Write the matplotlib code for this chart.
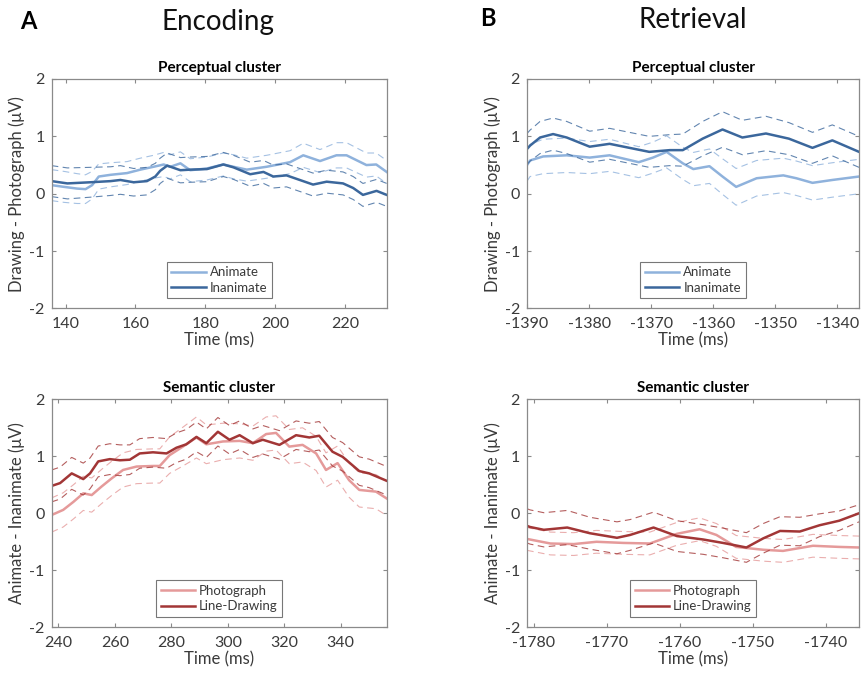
import matplotlib.pyplot as plt

plt.rcParams['font.family'] = ['Lato', 'DejaVu Sans']
plt.rcParams['axes.unicode_minus'] = False

# Encoding, perceptual cluster (drawing - photograph)
enc_perc_t_anim = [136, 139.5, 143.3, 145.7, 147.6, 149.5, 152.9, 157.6, 161.4, 165.2, 168.1, 170, 172.9,
                   175.7, 180.5, 185.2, 188.1, 191.9, 197.6, 204.3, 208.1, 212.9, 217.6, 220.5, 226.2, 229, 232]
enc_perc_anim = [0.15, 0.12, 0.09, 0.08, 0.15, 0.30, 0.33, 0.36, 0.42, 0.47, 0.51, 0.47, 0.53,
                 0.41, 0.44, 0.51, 0.47, 0.42, 0.47, 0.55, 0.67, 0.57, 0.67, 0.67, 0.50, 0.51, 0.38]
enc_perc_anim_ci = [0.27, 0.27, 0.26, 0.25, 0.24, 0.22, 0.21, 0.2, 0.2, 0.2, 0.21, 0.21, 0.2,
                    0.2, 0.2, 0.2, 0.21, 0.2, 0.2, 0.2, 0.21, 0.2, 0.22, 0.22, 0.21, 0.2, 0.2]
enc_perc_t_inan = [136, 140.5, 147.1, 152.9, 155.7, 159.5, 163.3, 165.7, 167.1, 169.1, 172.9, 175.7, 180.5,
                   185.2, 188.1, 192.9, 196.7, 199.5, 203.3, 207.1, 210.9, 214.8, 219.5, 222.4, 225.2, 229.1, 232]
enc_perc_inan = [0.22, 0.18, 0.20, 0.22, 0.24, 0.20, 0.22, 0.30, 0.40, 0.49, 0.41, 0.42, 0.43,
                 0.51, 0.46, 0.34, 0.38, 0.30, 0.32, 0.24, 0.16, 0.21, 0.18, 0.10, -0.02, 0.05, -0.02]
enc_perc_inan_ci = [0.27, 0.27, 0.26, 0.25, 0.25, 0.24, 0.24, 0.23, 0.22, 0.22, 0.22, 0.22, 0.22,
                    0.21, 0.21, 0.21, 0.2, 0.2, 0.2, 0.2, 0.2, 0.2, 0.2, 0.2, 0.2, 0.2, 0.2]

# Retrieval, perceptual cluster
ret_perc_t_anim = [-1390, -1389.5, -1387.4, -1383.6, -1379.9, -1376.7, -1372, -1369.7, -1367.5, -1364.9,
                   -1363.2, -1360.6, -1358.5, -1356.3, -1353, -1348.7, -1346.6, -1344, -1340.8, -1336.5]
ret_perc_anim = [0.50, 0.58, 0.65, 0.67, 0.63, 0.67, 0.55, 0.63, 0.73, 0.53,
                 0.43, 0.48, 0.30, 0.12, 0.27, 0.32, 0.27, 0.19, 0.24, 0.30]
ret_perc_anim_ci = [0.28, 0.28, 0.3, 0.3, 0.28, 0.28, 0.27, 0.27, 0.28, 0.28,
                    0.29, 0.3, 0.31, 0.32, 0.31, 0.3, 0.3, 0.3, 0.3, 0.3]
ret_perc_t_inan = [-1390, -1389.5, -1387.9, -1385.8, -1383.6, -1379.9, -1376.7, -1373.5, -1370.3, -1367,
                   -1364.9, -1361.7, -1358.5, -1355.3, -1351.5, -1347.8, -1344, -1340.8, -1336.5]
ret_perc_inan = [0.78, 0.84, 0.98, 1.04, 0.98, 0.82, 0.87, 0.80, 0.73, 0.76,
                 0.76, 0.96, 1.12, 0.98, 1.05, 0.96, 0.80, 0.93, 0.73]
ret_perc_inan_ci = [0.27, 0.27, 0.28, 0.28, 0.28, 0.27, 0.27, 0.27, 0.27, 0.27,
                    0.28, 0.3, 0.31, 0.3, 0.3, 0.28, 0.27, 0.27, 0.27]

# Encoding, semantic cluster (animate - inanimate)
enc_sem_t_photo = [237.6, 241.7, 245.3, 248.8, 251.8, 255.3, 258.8, 262.9, 267.7, 273.5, 275.9, 279.4,
                   284.1, 288.9, 292.4, 298.3, 304.2, 308.9, 313.6, 317.1, 321.8, 326.5, 331.3, 334.8,
                   338.9, 343, 346.6, 352.5, 356.3]
enc_sem_photo = [-0.03, 0.06, 0.20, 0.35, 0.32, 0.47, 0.61, 0.76, 0.82, 0.83, 0.83, 1.02,
                 1.17, 1.33, 1.21, 1.26, 1.27, 1.23, 1.39, 1.41, 1.17, 1.20, 1.05, 0.76,
                 0.88, 0.58, 0.41, 0.38, 0.26]
enc_sem_photo_ci = [0.3, 0.3, 0.3, 0.3, 0.3, 0.3, 0.3, 0.3, 0.3, 0.3, 0.3, 0.32,
                    0.34, 0.36, 0.34, 0.32, 0.3, 0.3, 0.3, 0.3, 0.3, 0.3, 0.3, 0.3,
                    0.3, 0.3, 0.3, 0.3, 0.3]
enc_sem_t_line = [237.6, 240.6, 244.7, 248.8, 251.2, 254.1, 258.2, 261.8, 265.3, 268.8, 273.5, 278.3,
                  281.8, 285.3, 288.9, 292.4, 296.5, 300.6, 304.2, 308.9, 312.4, 318.3, 324.2, 328.9,
                  332.4, 337.1, 340.7, 346.6, 350.1, 356.3]
enc_sem_line = [0.48, 0.53, 0.70, 0.60, 0.70, 0.91, 0.95, 0.93, 0.94, 1.05, 1.07, 1.05,
                1.15, 1.21, 1.34, 1.23, 1.43, 1.29, 1.37, 1.23, 1.29, 1.20, 1.37, 1.33,
                1.36, 1.08, 0.99, 0.74, 0.70, 0.57]
enc_sem_line_ci = [0.28, 0.28, 0.28, 0.28, 0.27, 0.27, 0.27, 0.27, 0.26, 0.26, 0.26, 0.26,
                   0.26, 0.26, 0.26, 0.25, 0.25, 0.25, 0.25, 0.25, 0.25, 0.25, 0.25, 0.25,
                   0.25, 0.25, 0.25, 0.25, 0.25, 0.25]

# Retrieval, semantic cluster
ret_sem_t_photo = [-1780.9, -1780.5, -1777.7, -1774.5, -1771.4, -1767.7, -1764.1, -1760.4, -1757.3,
                   -1755, -1752.3, -1748.6, -1745.9, -1741.8, -1738.2, -1735.5]
ret_sem_photo = [-0.45, -0.46, -0.53, -0.54, -0.50, -0.52, -0.53, -0.36, -0.28,
                 -0.38, -0.59, -0.64, -0.66, -0.57, -0.59, -0.60]
ret_sem_photo_ci = [0.2, 0.2, 0.2, 0.2, 0.2, 0.2, 0.2, 0.2, 0.2,
                    0.2, 0.2, 0.2, 0.2, 0.2, 0.2, 0.2]
ret_sem_t_line = [-1780.9, -1780.5, -1778.6, -1775.4, -1772.3, -1768.6, -1766.8, -1763.6, -1760.4,
                  -1756.8, -1754.1, -1750.9, -1748.6, -1746.3, -1743.6, -1740.9, -1738.2, -1735.5]
ret_sem_line = [-0.22, -0.24, -0.29, -0.25, -0.35, -0.43, -0.38, -0.25, -0.40,
                -0.46, -0.52, -0.60, -0.44, -0.31, -0.32, -0.21, -0.13, 0.0]
ret_sem_line_ci = [0.3, 0.3, 0.3, 0.3, 0.28, 0.28, 0.27, 0.27, 0.27,
                   0.26, 0.26, 0.26, 0.26, 0.25, 0.25, 0.2, 0.17, 0.15]

enc_perc_xticks = [140, 160, 180, 200, 220]
ret_perc_xticks = [-1390, -1380, -1370, -1360, -1350, -1340]
enc_sem_xticks = [240, 260, 280, 300, 320, 340]
ret_sem_xticks = [-1780, -1770, -1760, -1750, -1740]

light_blue, dark_blue = '#8fb2dc', '#3b679c'
light_red, dark_red = '#e59a9a', '#a23636'
text_col = '#3a3a3a'
axis_col = '#8a8a8a'

fig = plt.figure(figsize=(8.61, 6.74), dpi=100)


def draw_panel(rect, series, xlim, xticks, title, ylabel):
    ax = fig.add_axes(rect)
    handles = []
    for t, m, ci, col, lab in series:
        lo = [a - b for a, b in zip(m, ci)]
        hi = [a + b for a, b in zip(m, ci)]
        ax.plot(t, lo, '--', color=col, lw=0.8, alpha=0.8, dashes=(6, 4))
        ax.plot(t, hi, '--', color=col, lw=0.8, alpha=0.8, dashes=(6, 4))
        h, = ax.plot(t, m, color=col, lw=1.8, label=lab)
        handles.append(h)
    ax.set_xlim(xlim)
    ax.set_ylim(-2, 2)
    ax.set_xticks(xticks)
    ax.set_yticks([-2, -1, 0, 1, 2])
    ax.tick_params(direction='in', top=True, right=True, length=3, color=axis_col,
                   labelcolor=text_col, labelsize=11.5)
    ax.tick_params(axis='x', pad=6)
    ax.tick_params(axis='y', pad=5)
    for s in ax.spines.values():
        s.set_color(axis_col)
        s.set_linewidth(0.9)
    ax.set_title(title, fontsize=11, fontweight='bold', color='black', pad=5)
    ax.set_xlabel('Time (ms)', fontsize=12, color=text_col, labelpad=1)
    ax.set_ylabel(ylabel, fontsize=12, color=text_col, labelpad=3)
    leg = ax.legend(handles=handles, loc='lower center', bbox_to_anchor=(0.5, 0.045),
                    fontsize=9.5, frameon=True, fancybox=False, handlelength=2.6,
                    handletextpad=0.3, borderpad=0.35, labelspacing=0.25, borderaxespad=0)
    leg.get_frame().set_edgecolor('#555555')
    leg.get_frame().set_linewidth(0.8)
    for txt in leg.get_texts():
        txt.set_color(text_col)
    return ax


top_b, top_h = 0.5423, 0.3405
bot_b, bot_h = 0.0693, 0.3383
left_l, left_w = 0.0600, 0.3891
right_l, right_w = 0.6121, 0.3856

draw_panel([left_l, top_b, left_w, top_h],
           [(enc_perc_t_anim, enc_perc_anim, enc_perc_anim_ci, light_blue, 'Animate'),
            (enc_perc_t_inan, enc_perc_inan, enc_perc_inan_ci, dark_blue, 'Inanimate')],
           (136, 232), enc_perc_xticks, 'Perceptual cluster', 'Drawing - Photograph (μV)')
draw_panel([right_l, top_b, right_w, top_h],
           [(ret_perc_t_anim, ret_perc_anim, ret_perc_anim_ci, light_blue, 'Animate'),
            (ret_perc_t_inan, ret_perc_inan, ret_perc_inan_ci, dark_blue, 'Inanimate')],
           (-1390, -1336.5), ret_perc_xticks, 'Perceptual cluster', 'Drawing - Photograph (μV)')
draw_panel([left_l, bot_b, left_w, bot_h],
           [(enc_sem_t_photo, enc_sem_photo, enc_sem_photo_ci, light_red, 'Photograph'),
            (enc_sem_t_line, enc_sem_line, enc_sem_line_ci, dark_red, 'Line-Drawing')],
           (237.6, 356.3), enc_sem_xticks, 'Semantic cluster', 'Animate - Inanimate (μV)')
draw_panel([right_l, bot_b, right_w, bot_h],
           [(ret_sem_t_photo, ret_sem_photo, ret_sem_photo_ci, light_red, 'Photograph'),
            (ret_sem_t_line, ret_sem_line, ret_sem_line_ci, dark_red, 'Line-Drawing')],
           (-1780.9, -1735.5), ret_sem_xticks, 'Semantic cluster', 'Animate - Inanimate (μV)')

fig.text(0.0325, 0.968, 'A', fontsize=17, fontweight='bold', ha='center', va='center')
fig.text(0.253, 0.968, 'Encoding', fontsize=20, ha='center', va='center', color='#111111')
fig.text(0.567, 0.973, 'B', fontsize=17, fontweight='bold', ha='center', va='center')
fig.text(0.805, 0.971, 'Retrieval', fontsize=20, ha='center', va='center', color='#111111')

fig.savefig('out.png', dpi=100)
